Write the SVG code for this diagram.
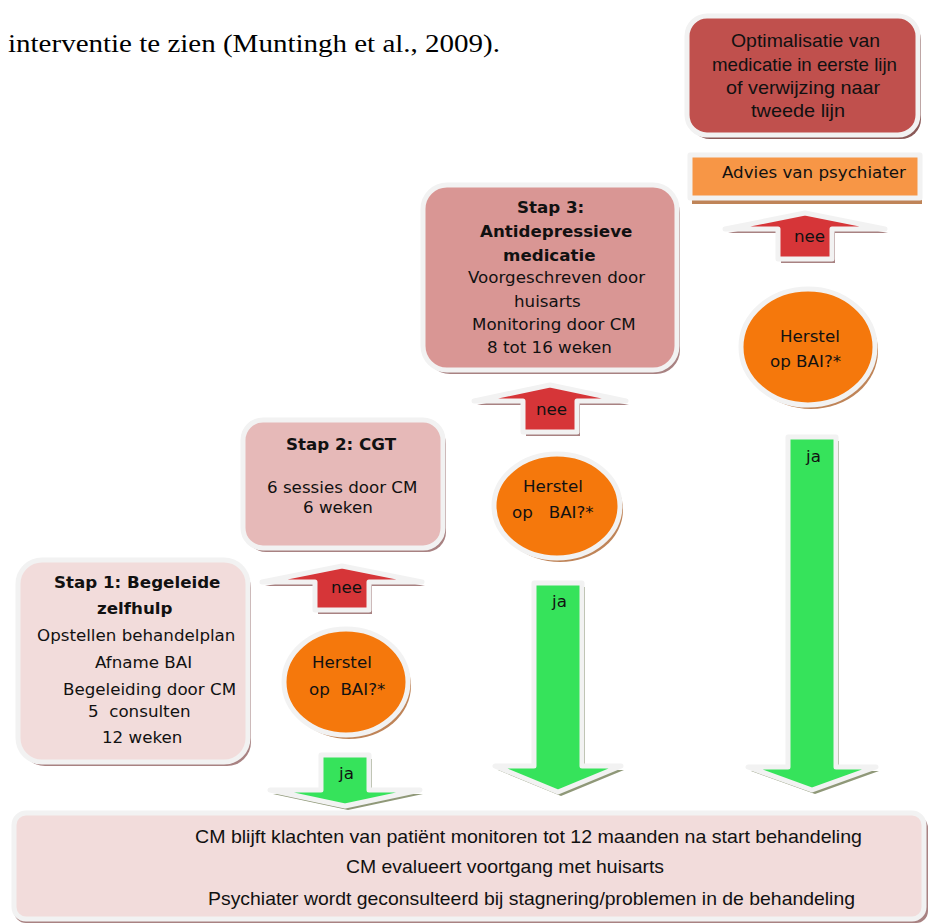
<svg xmlns="http://www.w3.org/2000/svg" width="931" height="923" viewBox="0 0 931 923">
<style>
.bd{stroke:#f2f2f2;stroke-width:5;stroke-linejoin:round}
.shp{fill:#a88282}
.sho{fill:#bf8458}
.shg{fill:#8f9878}
.v{font-family:"DejaVu Sans",Verdana,sans-serif;font-size:16.7px;fill:#111}
.vb{font-family:"DejaVu Sans",Verdana,sans-serif;font-size:16.7px;font-weight:bold;fill:#111}
.n{font-family:"Liberation Sans",Arial,sans-serif;font-size:19px;fill:#111}
.t{font-family:"Liberation Serif","Times New Roman",serif;font-size:25px;fill:#000}
.red{fill:#d63538}
.grn{fill:#36e35b}
.orc{fill:#f5780c}
</style>
<rect width="931" height="923" fill="#fff"/>
<text class="t" x="8" y="52" textLength="492" lengthAdjust="spacingAndGlyphs">interventie te zien (Muntingh et al., 2009).</text>

<g id="connectors">
  <g id="nee1">
    <polygon class="shp" transform="translate(3,4)" points="342,566 422,582 369,582 369,610 315,610 315,582 262,582"/>
    <polygon class="red bd" points="342,566 422,582 369,582 369,610 315,610 315,582 262,582"/>
    <text class="v" x="331" y="593">nee</text>
  </g>
  <g id="nee2">
    <polygon class="shp" transform="translate(3,4)" points="550,385 626,401 577,401 577,432 523,432 523,401 474,401"/>
    <polygon class="red bd" points="550,385 626,401 577,401 577,432 523,432 523,401 474,401"/>
    <text class="v" x="536" y="415">nee</text>
  </g>
  <g id="nee3">
    <polygon class="shp" transform="translate(3,4)" points="805,213 885,229 832,229 832,259 778,259 778,229 725,229"/>
    <polygon class="red bd" points="805,213 885,229 832,229 832,259 778,259 778,229 725,229"/>
    <text class="v" x="794" y="242">nee</text>
  </g>
  <g id="ja1">
    <polygon class="shg" transform="translate(3,4)" points="321,755 369,755 369,790 420,790 345,806 270,790 321,790"/>
    <polygon class="grn bd" points="321,755 369,755 369,790 420,790 345,806 270,790 321,790"/>
    <text class="v" x="339" y="779">ja</text>
  </g>
  <g id="ja2">
    <polygon class="shg" transform="translate(3,4)" points="534,583 582,583 582,766 621,766 558,792 495,766 534,766"/>
    <polygon class="grn bd" points="534,583 582,583 582,766 621,766 558,792 495,766 534,766"/>
    <text class="v" x="552" y="607">ja</text>
  </g>
  <g id="ja3">
    <polygon class="shg" transform="translate(3,4)" points="788,437 836,437 836,767 876,767 812,790 748,767 788,767"/>
    <polygon class="grn bd" points="788,437 836,437 836,767 876,767 812,790 748,767 788,767"/>
    <text class="v" x="806" y="462">ja</text>
  </g>
</g>

<g id="stap1">
  <rect class="shp" x="21" y="564" width="230" height="202" rx="24"/>
  <rect class="bd" x="18" y="560" width="230" height="202" rx="24" fill="#f2dcdb"/>
  <text class="vb" x="54" y="588">Stap 1: Begeleide</text>
  <text class="vb" x="97" y="614">zelfhulp</text>
  <text class="v" x="37" y="641">Opstellen behandelplan</text>
  <text class="v" x="95" y="668">Afname BAI</text>
  <text class="v" x="63" y="695">Begeleiding door CM</text>
  <text class="v" x="88" y="717" xml:space="preserve">5  consulten</text>
  <text class="v" x="102" y="743">12 weken</text>
</g>

<g id="stap2">
  <rect class="shp" x="246" y="424" width="200" height="128" rx="20"/>
  <rect class="bd" x="243" y="420" width="200" height="128" rx="20" fill="#e6b9b8"/>
  <text class="vb" x="286" y="450">Stap 2: CGT</text>
  <text class="v" x="267" y="493">6 sessies door CM</text>
  <text class="v" x="303" y="513">6 weken</text>
</g>

<g id="stap3">
  <rect class="shp" x="426" y="189" width="254" height="185" rx="24"/>
  <rect class="bd" x="423" y="185" width="254" height="185" rx="24" fill="#d99694"/>
  <text class="vb" x="517" y="213">Stap 3:</text>
  <text class="vb" x="480" y="237">Antidepressieve</text>
  <text class="vb" x="503" y="261">medicatie</text>
  <text class="v" x="468" y="283">Voorgeschreven door</text>
  <text class="v" x="514" y="307">huisarts</text>
  <text class="v" x="472" y="330">Monitoring door CM</text>
  <text class="v" x="487" y="353">8 tot 16 weken</text>
</g>

<g id="herstel1">
  <ellipse class="sho" cx="349" cy="686" rx="62" ry="53"/>
  <ellipse class="orc bd" cx="346" cy="682" rx="62" ry="53"/>
  <text class="v" x="312" y="668">Herstel</text>
  <text class="v" x="309" y="695" xml:space="preserve">op  BAI?*</text>
</g>

<g id="herstel2">
  <ellipse class="sho" cx="560" cy="510" rx="63" ry="52"/>
  <ellipse class="orc bd" cx="557" cy="506" rx="63" ry="52"/>
  <text class="v" x="523" y="492">Herstel</text>
  <text class="v" x="512" y="518" xml:space="preserve">op   BAI?*</text>
</g>

<g id="herstel3">
  <ellipse class="sho" cx="811" cy="351" rx="67" ry="58"/>
  <ellipse class="orc bd" cx="808" cy="347" rx="67" ry="58"/>
  <text class="v" x="780" y="342">Herstel</text>
  <text class="v" x="770" y="367">op BAI?*</text>
</g>

<g id="advies">
  <rect class="sho" x="692" y="159" width="230" height="45"/>
  <rect class="bd" x="690" y="155" width="230" height="43" fill="#f79646"/>
  <text class="v" x="722" y="178">Advies van psychiater</text>
</g>

<g id="optimalisatie">
  <rect x="690" y="20" width="231" height="119" rx="20" fill="#8a5a58"/>
  <rect class="bd" x="687" y="16" width="231" height="119" rx="20" fill="#c0504d"/>
  <text class="n" x="731" y="47" textLength="149" lengthAdjust="spacingAndGlyphs">Optimalisatie van</text>
  <text class="n" x="712" y="71" textLength="185" lengthAdjust="spacingAndGlyphs">medicatie in eerste lijn</text>
  <text class="n" x="726" y="94" textLength="154" lengthAdjust="spacingAndGlyphs">of verwijzing naar</text>
  <text class="n" x="751" y="117" textLength="94" lengthAdjust="spacingAndGlyphs">tweede lijn</text>
</g>

<g id="monitoring">
  <rect class="shp" x="14" y="816" width="914" height="107" rx="12"/>
  <rect class="bd" x="14" y="813" width="910" height="106" rx="12" fill="#f2dcdb"/>
  <text class="n" x="195" y="843" textLength="667" lengthAdjust="spacingAndGlyphs">CM blijft klachten van patiënt monitoren tot 12 maanden na start behandeling</text>
  <text class="n" x="346" y="873" textLength="318" lengthAdjust="spacingAndGlyphs">CM evalueert voortgang met huisarts</text>
  <text class="n" x="208" y="905" textLength="647" lengthAdjust="spacingAndGlyphs">Psychiater wordt geconsulteerd bij stagnering/problemen in de behandeling</text>
</g>
</svg>
